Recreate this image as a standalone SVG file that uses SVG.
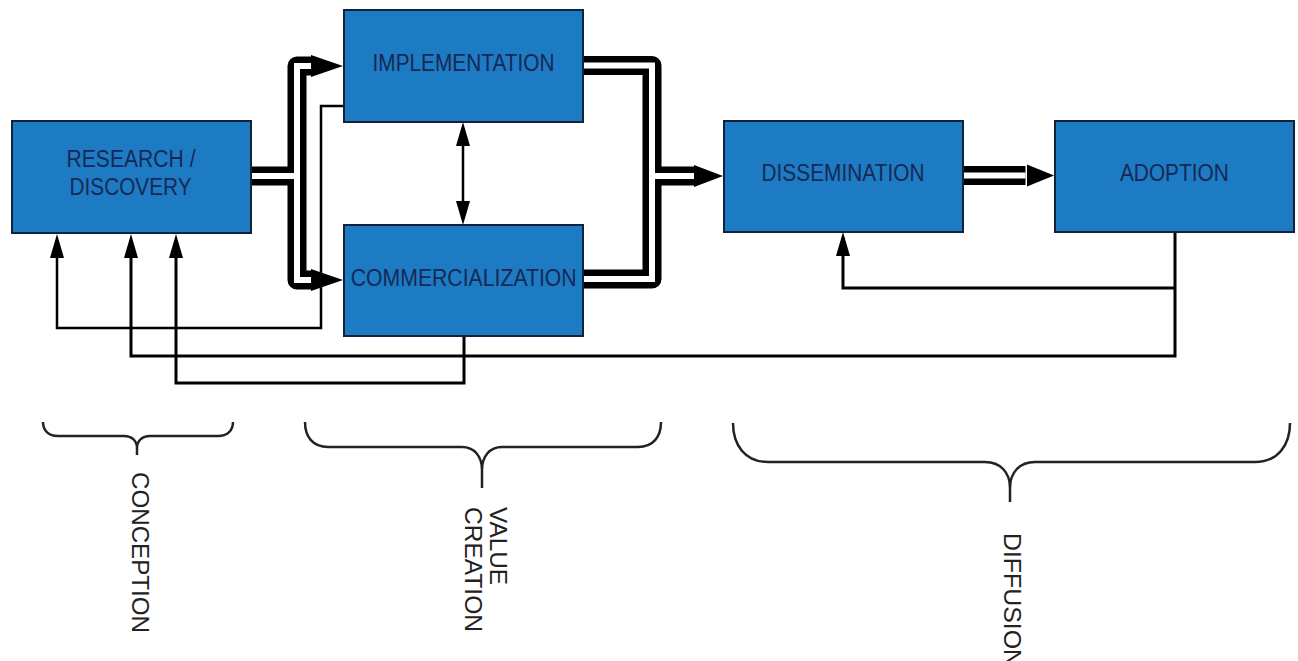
<svg xmlns="http://www.w3.org/2000/svg" width="1298" height="661" viewBox="0 0 1298 661">
<style>
.box{fill:#1c7bc2;stroke:#14213a;stroke-width:2}
.lbl{font-family:"Liberation Sans",Arial,sans-serif;font-size:23px;fill:#172856;text-anchor:middle}
.pipeO{fill:none;stroke:#000;stroke-width:19;stroke-linejoin:round;stroke-linecap:butt}
.pipeI{fill:none;stroke:#fff;stroke-width:6;stroke-linejoin:miter;stroke-linecap:butt}
.head{fill:#000}
.thin{fill:none;stroke:#000;stroke-width:3;marker-end:url(#ah)}
.brace{fill:none;stroke:#222;stroke-width:2.5}
.blbl{font-family:"Liberation Sans",Arial,sans-serif;font-size:24px;fill:#222}
</style>
<defs>
<marker id="ah" viewBox="0 0 24 14" refX="18" refY="7" markerWidth="24" markerHeight="14" markerUnits="userSpaceOnUse" orient="auto-start-reverse">
<path d="M0,0 L24,7 L0,14 z" fill="#000"/>
</marker>
</defs>
<rect width="1298" height="661" fill="#fff"/>
<g id="connectors">
<path class="pipeO" d="M251,176 L297,176"/>
<path class="pipeO" d="M311,66 L297,66 L297,280 L311,280"/>
<path class="pipeO" d="M583,65.5 L652,65.5 L652,279 L583,279"/>
<path class="pipeO" d="M652,176 L694,176"/>
<path class="pipeO" d="M963,175.5 L1025.5,175.5"/>
<path class="pipeI" d="M251,176 L298,176"/>
<path class="pipeI" d="M311,66 L297,66 L297,280 L311,280"/>
<path class="pipeI" d="M583,65.5 L652,65.5 L652,279 L583,279"/>
<path class="pipeI" d="M651,176 L694,176"/>
<path class="pipeI" d="M963,175.5 L1025.5,175.5"/>
<polygon class="head" points="311,55 343,66 311,77"/>
<polygon class="head" points="311,269 343,280 311,291"/>
<polygon class="head" points="694,165 723,176 694,187"/>
<polygon class="head" points="1027,164.5 1054,175.5 1027,186.5"/>
<path class="thin" style="stroke-width:2.5" d="M344,106 L321,106 L321,328 L57,328 L57,240"/>
<path class="thin" d="M1175,232 L1175,356 L131,356 L131,240"/>
<path class="thin" d="M1175,288 L843,288 L843,238"/>
<path class="thin" d="M464,336 L464,383 L176,383 L176,240"/>
<path class="thin" style="stroke-width:2.5;marker-start:url(#ah)" d="M463,128 L463,219"/>
</g>
<g id="research">
<rect class="box" x="12" y="121" width="239" height="112"/>
<text class="lbl" x="131" y="167" textLength="129" lengthAdjust="spacingAndGlyphs">RESEARCH /</text>
<text class="lbl" x="130.5" y="195" textLength="122" lengthAdjust="spacingAndGlyphs">DISCOVERY</text>
</g>
<g id="implementation">
<rect class="box" x="344" y="10" width="239" height="112"/>
<text class="lbl" x="463.5" y="71" textLength="182" lengthAdjust="spacingAndGlyphs">IMPLEMENTATION</text>
</g>
<g id="commercialization">
<rect class="box" x="344" y="225" width="239" height="111"/>
<text class="lbl" x="463.7" y="286" textLength="226" lengthAdjust="spacingAndGlyphs">COMMERCIALIZATION</text>
</g>
<g id="dissemination">
<rect class="box" x="724" y="121" width="239" height="111"/>
<text class="lbl" x="843" y="181" textLength="163" lengthAdjust="spacingAndGlyphs">DISSEMINATION</text>
</g>
<g id="adoption">
<rect class="box" x="1055" y="121" width="239" height="111"/>
<text class="lbl" x="1174.4" y="181" textLength="109" lengthAdjust="spacingAndGlyphs">ADOPTION</text>
</g>
<g id="conception">
<path class="brace" d="M43,422 C43,431 49,436 58,436 L124,436 C132,436 137,441 137,448 L137,455 M137,448 C137,441 142,436 150,436 L218,436 C227,436 233,431 233,422"/>
<text class="blbl" transform="translate(132,472) rotate(90)" textLength="161" lengthAdjust="spacingAndGlyphs">CONCEPTION</text>
</g>
<g id="value-creation">
<path class="brace" d="M305,422 C305,437 313,447 328,447 L462,447 C474,447 482,456 482,470 L482,488 M482,470 C482,456 490,447 502,447 L638,447 C653,447 661,437 661,422"/>
<text class="blbl" transform="translate(490,507) rotate(90)" textLength="78" lengthAdjust="spacingAndGlyphs">VALUE</text>
<text class="blbl" transform="translate(465,507) rotate(90)" textLength="125" lengthAdjust="spacingAndGlyphs">CREATION</text>
</g>
<g id="diffusion">
<path class="brace" d="M733,423 C733,445 745,462 768,462 L985,462 C1000,462 1010,472 1010,488 L1010,502 M1010,488 C1010,472 1020,462 1035,462 L1255,462 C1278,462 1290,445 1290,423"/>
<text class="blbl" transform="translate(1004,533) rotate(90)" textLength="134" lengthAdjust="spacingAndGlyphs">DIFFUSION</text>
</g>
</svg>
